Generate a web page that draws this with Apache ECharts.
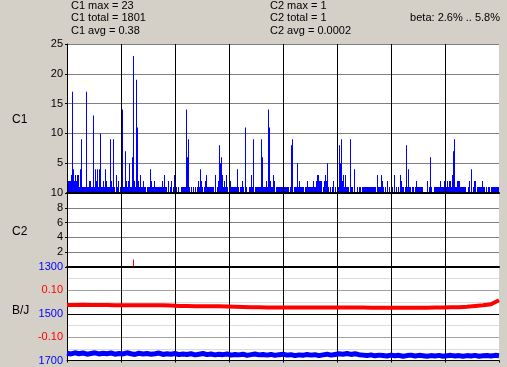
<!DOCTYPE html>
<html><head><meta charset="utf-8">
<script src="https://cdn.jsdelivr.net/npm/echarts@6/dist/echarts.min.js"></script>
<style>html,body{margin:0;padding:0;background:#D4D0C8;}#c{width:507px;height:367px;}</style>
</head><body><div id="c"></div>
<script>
// ---- data (one value per pixel column, 8 divisions of 54 columns) ----
const c1Div1 = [13,2,2,2,3,17,4,2,3,2, 3,3,1,4,9,1,1,1,1,17, 1,1,2,2,1,1,13,1,4,2, 4,1,4,10,1,1,2,1,4,2, 1,1,1,9,2,1,9,1,0,3, 1,2,0,1];
const c1Div2 = [1,14,1,1,7,2,1,2,5,1, 1,6,23,2,1,19,11,2,1,3, 1,1,2,1,1,0,1,1,1,4, 2,1,1,2,1,1,1,1,1,1, 1,2,1,3,1,1,0,2,0,1, 2,0,1,3];
const c1Div3 = [1,1,0,1,0,0,1,1,1,1, 1,14,6,9,1,0,1,0,1,0, 1,0,1,2,1,4,2,1,0,1, 2,3,1,1,1,1,1,1,1,0, 3,0,1,2,8,5,6,3,1,2, 1,3,1,0];
const c1Div4 = [1,2,1,1,1,1,1,1,4,1, 0,1,1,2,1,0,11,1,0,0, 1,1,3,1,9,0,1,1,1,1, 1,1,9,6,1,1,1,2,1,14, 11,2,1,1,3,2,0,1,1,1, 1,1,1,1];
const c1Div5 = [1,1,1,1,1,1,0,1,8,9, 0,1,1,1,5,1,2,1,1,1, 1,0,1,1,2,1,1,1,1,1, 2,1,1,2,3,3,2,2,2,0, 1,2,3,2,5,1,0,1,0,1, 2,0,1,0];
const c1Div6 = [1,1,8,5,9,2,3,1,3,1, 1,1,0,9,1,1,0,4,0,0, 1,0,1,1,0,1,1,1,1,1, 1,1,1,1,1,1,1,1,1,0, 3,1,1,1,3,2,1,0,1,0, 2,0,1,0];
const c1Div7 = [1,1,0,3,0,1,0,1,0,3, 2,1,1,0,1,8,1,4,1,1, 0,1,1,0,1,2,1,1,1,1, 1,1,0,0,0,0,2,0,1,6, 1,0,0,1,1,1,1,1,1,2, 1,1,1,2];
const c1Div8 = [1,1,2,1,2,2,1,3,7,9, 1,1,2,2,2,1,1,1,1,1, 1,0,0,1,2,0,4,0,1,2, 2,0,1,1,1,1,1,2,1,1, 0,1,0,1,1,0,1,1,1,1, 1,1,1,1];
// C2: [column index, count] (all other columns are zero)
const c2Events = [[66, 1]];
// B/J panel: beta sampled every 8 columns, B/J sampled every 4 columns
const betaStep = 8;
const betaValues = [0.037,0.037,0.038,0.037,0.037,0.037,0.036,0.036,0.036,0.036,
  0.036,0.036,0.036,0.035,0.033,0.033,0.032,0.032,0.032,0.032,
  0.031,0.030,0.029,0.028,0.028,0.027,0.027,0.027,0.027,0.027,
  0.027,0.027,0.027,0.027,0.027,0.027,0.027,0.027,0.026,0.026,
  0.026,0.026,0.026,0.026,0.026,0.026,0.027,0.027,0.028,0.028,
  0.030,0.033,0.036,0.041,0.058];
const bjStep = 4;
const bjValues = [1669,1672,1667,1671,1668,1673,1670,1667,1672,1669,
  1671,1668,1673,1670,1672,1667,1671,1674,1669,1672,
  1670,1673,1671,1668,1674,1671,1673,1670,1675,1672,
  1674,1671,1676,1673,1670,1675,1672,1676,1673,1675,
  1672,1677,1674,1676,1673,1678,1675,1672,1676,1674,
  1677,1674,1678,1675,1673,1677,1675,1679,1676,1678,
  1674,1677,1675,1679,1676,1673,1677,1674,1671,1673,
  1670,1674,1671,1675,1677,1679,1676,1680,1677,1679,
  1681,1677,1680,1678,1682,1679,1677,1681,1678,1680,
  1682,1679,1681,1678,1682,1680,1678,1681,1679,1682,
  1679,1681,1678,1682,1680,1679,1681,1678,1680];
const columnCount = 432;
const divisionSize = 54;
const headerC1 = ['C1 max = 23', 'C1 total = 1801', 'C1 avg = 0.38'];
const headerC2 = ['C2 max = 1', 'C2 total = 1', 'C2 avg = 0.0002'];
const headerBeta = 'beta: 2.6% .. 5.8%';
const panelNames = ['C1', 'C2', 'B/J'];
const bjLabels = [1300, 1500, 1700];
const betaLabels = [0.10, -0.10];

const c1Values = [].concat(c1Div1, c1Div2, c1Div3, c1Div4, c1Div5, c1Div6, c1Div7, c1Div8);

const FONT = '"Liberation Sans", Arial, sans-serif';
const chart = echarts.init(document.getElementById('c'), null, {renderer: 'canvas'});

function xAxisFor(g, lineW, ticks) {
  return {
    type: 'value', gridIndex: g, min: 0, max: columnCount, interval: divisionSize, z: 3,
    axisLabel: {show: false},
    axisTick: {show: ticks, length: 2, lineStyle: {color: '#000'}},
    axisLine: {show: true, onZero: false, lineStyle: {color: '#000', width: lineW}},
    splitLine: {show: true, showMaxLine: false, lineStyle: {color: '#000', width: 1}}
  };
}
const lbl = {color: '#000', fontSize: 11, fontFamily: FONT, margin: 4};

const graphics = [];
headerC1.forEach((t, i) => graphics.push({type: 'text', x: 71, y: 6 + i * 12.3,
  style: {text: t, fill: '#000', font: '11px ' + FONT, verticalAlign: 'middle'}}));
headerC2.forEach((t, i) => graphics.push({type: 'text', x: 270, y: 6 + i * 12.3,
  style: {text: t, fill: '#000', font: '11px ' + FONT, verticalAlign: 'middle'}}));
graphics.push({type: 'text', x: 500, y: 18.3,
  style: {text: headerBeta, fill: '#000', font: '11px ' + FONT, align: 'right', verticalAlign: 'middle'}});
[120, 231.5, 311].forEach((py, i) => graphics.push({type: 'text', x: 12, y: py,
  style: {text: panelNames[i], fill: '#000', font: '12px ' + FONT, verticalAlign: 'middle'}}));

chart.setOption({
  animation: false,
  backgroundColor: '#D4D0C8',
  grid: [
    {left: 67, top: 44, width: 432, height: 149, backgroundColor: '#fff', show: true, borderWidth: 0},
    {left: 67, top: 193, width: 432, height: 74, backgroundColor: '#fff', show: true, borderWidth: 0},
    {left: 67, top: 267, width: 432, height: 93.5, backgroundColor: '#fff', show: true, borderWidth: 0}
  ],
  xAxis: [xAxisFor(0, 2, false), xAxisFor(1, 2, false), xAxisFor(2, 1, true)],
  yAxis: [
    {type: 'value', gridIndex: 0, min: 0, max: 25, interval: 5,
     axisLine: {show: true, lineStyle: {color: '#000'}},
     axisTick: {show: true, length: 2, lineStyle: {color: '#000'}},
     axisLabel: Object.assign({}, lbl, {formatter: v => v === 0 ? '' : String(v)}),
     splitLine: {show: true, lineStyle: {color: '#808080', width: 1}}},
    {type: 'value', gridIndex: 1, min: 0, max: 10, interval: 2,
     axisLine: {show: true, lineStyle: {color: '#000'}},
     axisTick: {show: true, length: 2, lineStyle: {color: '#000'}},
     axisLabel: Object.assign({}, lbl, {formatter: v => v === 0 ? '' : String(v)}),
     splitLine: {show: true, lineStyle: {color: '#808080', width: 1}}},
    {type: 'value', gridIndex: 2, min: 1300, max: 1700, interval: 50, inverse: true,
     axisLine: {show: true, lineStyle: {color: '#000'}},
     axisTick: {show: false},
     axisLabel: Object.assign({}, lbl, {color: '#0000FF',
       formatter: v => bjLabels.indexOf(Math.round(v)) >= 0 ? String(Math.round(v)) : ''}),
     splitLine: {show: true, lineStyle: {width: 1, color: ['#000000','#DCDCDC','#A0A0A0','#DCDCDC','#000000','#DCDCDC','#A0A0A0','#DCDCDC','#000000']}}},
    {type: 'value', gridIndex: 2, min: -0.2, max: 0.2, interval: 0.1, position: 'left',
     axisLine: {show: false}, axisTick: {show: false}, splitLine: {show: false},
     axisLabel: Object.assign({}, lbl, {color: '#FF0000',
       formatter: v => betaLabels.some(b => Math.abs(b - v) < 1e-9) ? v.toFixed(2) : ''})}
  ],
  graphic: graphics,
  series: [
    {type: 'bar', xAxisIndex: 0, yAxisIndex: 0, barWidth: 1, itemStyle: {color: '#0000FF'},
     data: c1Values.map((v, i) => [i + 0.5, v])},
    {type: 'bar', xAxisIndex: 1, yAxisIndex: 1, barWidth: 1, itemStyle: {color: '#FF0000'},
     data: c2Events.map(e => [e[0] + 0.5, e[1]])},
    {type: 'line', xAxisIndex: 2, yAxisIndex: 3, showSymbol: false, lineStyle: {color: '#FF0000', width: 4},
     data: betaValues.map((v, k) => [k * betaStep, v])},
    {type: 'line', xAxisIndex: 2, yAxisIndex: 2, showSymbol: false, lineStyle: {color: '#0000FF', width: 5},
     data: bjValues.map((v, k) => [k * bjStep, v])}
  ]
});
</script></body></html>
